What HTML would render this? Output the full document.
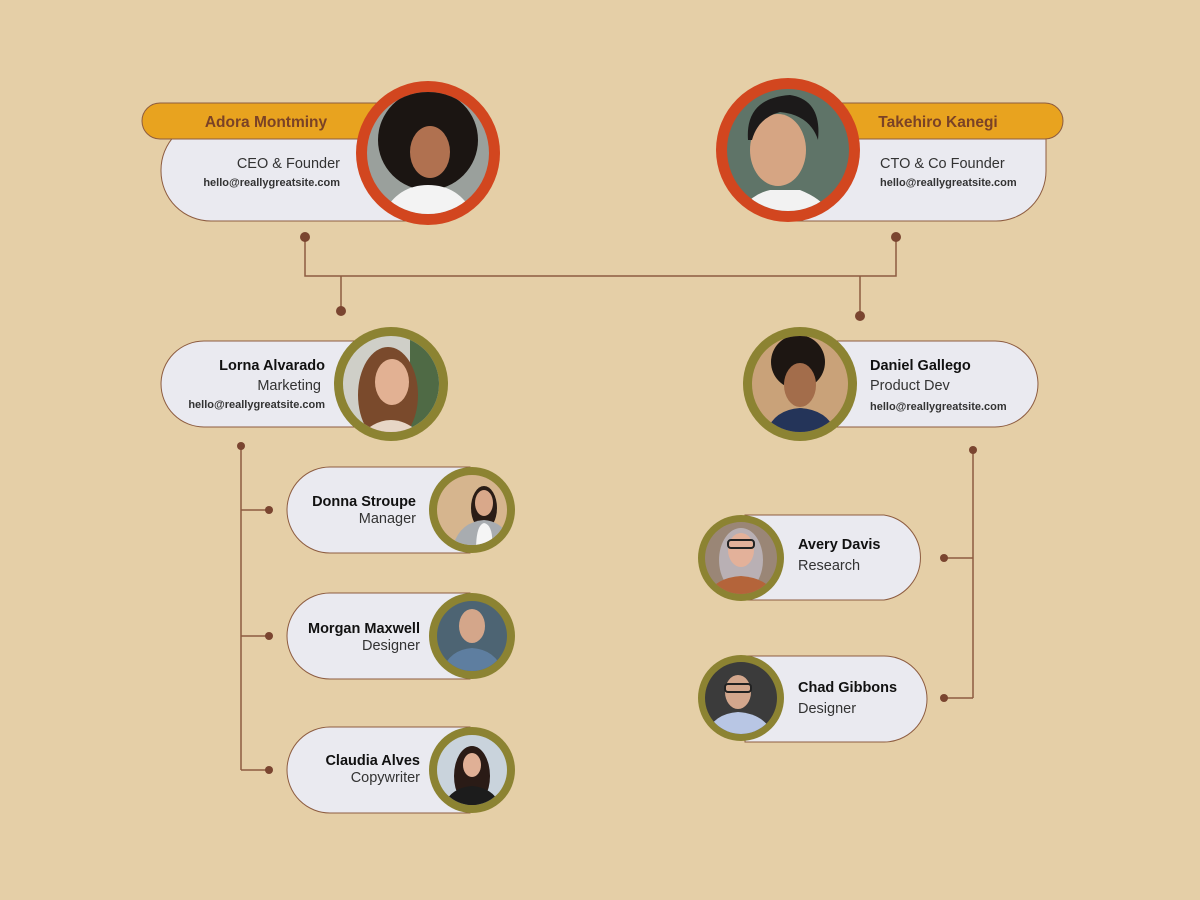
<!DOCTYPE html>
<html><head><meta charset="utf-8"><style>
html,body{margin:0;padding:0;background:#e5cfa7}
svg{display:block}
text{font-family:"Liberation Sans",sans-serif}
</style></head><body>
<svg width="1200" height="900" viewBox="0 0 1200 900" xmlns="http://www.w3.org/2000/svg">
<defs>
<clipPath id="c1"><circle cx="428" cy="153" r="61"/></clipPath>
<clipPath id="c2"><circle cx="788" cy="150" r="61"/></clipPath>
<clipPath id="c3"><circle cx="391" cy="384" r="48"/></clipPath>
<clipPath id="c4"><circle cx="800" cy="384" r="48"/></clipPath>
<clipPath id="c5"><circle cx="472" cy="510" r="35"/></clipPath>
<clipPath id="c6"><circle cx="472" cy="636" r="35"/></clipPath>
<clipPath id="c7"><circle cx="472" cy="770" r="35"/></clipPath>
<clipPath id="c8"><circle cx="741" cy="558" r="36"/></clipPath>
<clipPath id="c9"><circle cx="741" cy="698" r="36"/></clipPath>
</defs>
<rect width="1200" height="900" fill="#e5cfa7"/>
<g stroke="#8d5c40" stroke-width="1.5" fill="none">
<path d="M305 237 V276 H896 V237"/>
<path d="M341 276 V310"/>
<path d="M860 276 V316"/>
<path d="M241 446 V770"/>
<path d="M241 510 H269 M241 636 H269 M241 770 H269"/>
<path d="M973 450 V698"/>
<path d="M973 558 H944 M973 698 H944"/>
</g>
<g fill="#7a4530">
<circle cx="305" cy="237" r="5"/><circle cx="896" cy="237" r="5"/>
<circle cx="341" cy="311" r="5"/><circle cx="860" cy="316" r="5"/>
<circle cx="241" cy="446" r="4"/><circle cx="269" cy="510" r="4"/><circle cx="269" cy="636" r="4"/><circle cx="269" cy="770" r="4"/>
<circle cx="973" cy="450" r="4"/><circle cx="944" cy="558" r="4"/><circle cx="944" cy="698" r="4"/>
</g>
<!-- top left -->
<path d="M430 120 V221 H211 A50 50 0 0 1 161 171 V170 A50 50 0 0 1 211 120 Z" fill="#eaeaf0" stroke="#8d5c40" stroke-width="1"/>
<rect x="142" y="103" width="290" height="36" rx="18" fill="#e8a31f" stroke="#8d5c40" stroke-width="1"/>
<text x="266" y="127" text-anchor="middle" font-size="15.5" font-weight="bold" fill="#7a4226">Adora Montminy</text>
<text x="340" y="168" text-anchor="end" font-size="14.5" fill="#333">CEO &amp; Founder</text>
<text x="340" y="186" text-anchor="end" font-size="11" font-weight="bold" fill="#333">hello@reallygreatsite.com</text>
<circle cx="428" cy="153" r="72" fill="#d2461f"/>
<g clip-path="url(#c1)">
<rect x="360" y="90" width="140" height="130" fill="#9aa09c"/>
<circle cx="428" cy="140" r="50" fill="#1b1512"/>
<ellipse cx="430" cy="152" rx="20" ry="26" fill="#b07150"/>
<path d="M380 220 Q395 185 428 185 Q462 185 476 220 Z" fill="#f3f3f3"/>
</g>
<!-- top right -->
<path d="M790 120 H1046 V171 A50 50 0 0 1 996 221 H790 Z" fill="#eaeaf0" stroke="#8d5c40" stroke-width="1"/>
<rect x="780" y="103" width="283" height="36" rx="18" fill="#e8a31f" stroke="#8d5c40" stroke-width="1"/>
<text x="938" y="127" text-anchor="middle" font-size="15.5" font-weight="bold" fill="#7a4226">Takehiro Kanegi</text>
<text x="880" y="168" font-size="14.5" fill="#333">CTO &amp; Co Founder</text>
<text x="880" y="186" font-size="11" font-weight="bold" fill="#333">hello@reallygreatsite.com</text>
<circle cx="788" cy="150" r="72" fill="#d2461f"/>
<g clip-path="url(#c2)">
<rect x="720" y="85" width="140" height="130" fill="#5f7468"/>
<ellipse cx="778" cy="150" rx="28" ry="36" fill="#d6a583"/>
<path d="M748 140 Q745 98 790 95 Q822 100 818 140 Q810 115 780 112 Q758 118 752 140Z" fill="#1c1a1a"/>
<path d="M740 215 Q748 195 770 190 H800 Q825 200 830 215 Z" fill="#f2f2f2"/>
</g>
<!-- Lorna -->
<path d="M204 341 H400 V427 H204 A43 43 0 0 1 204 341Z" fill="#eaeaf0" stroke="#8d5c40" stroke-width="1"/>
<text x="325" y="370" text-anchor="end" font-size="14.5" font-weight="bold" fill="#111">Lorna Alvarado</text>
<text x="321" y="390" text-anchor="end" font-size="14.5" fill="#333">Marketing</text>
<text x="325" y="408" text-anchor="end" font-size="11" font-weight="bold" fill="#333">hello@reallygreatsite.com</text>
<circle cx="391" cy="384" r="57" fill="#8c8332"/>
<g clip-path="url(#c3)">
<rect x="340" y="330" width="110" height="110" fill="#cfcfc8"/>
<rect x="410" y="330" width="40" height="110" fill="#4f6a45"/>
<ellipse cx="388" cy="395" rx="30" ry="48" fill="#7a4a2c"/>
<ellipse cx="392" cy="382" rx="17" ry="23" fill="#e2b193"/>
<path d="M360 435 Q391 405 422 435 Z" fill="#e7d6c6"/>
</g>
<!-- Daniel -->
<path d="M810 341 H995 A43 43 0 0 1 995 427 H810Z" fill="#eaeaf0" stroke="#8d5c40" stroke-width="1"/>
<text x="870" y="370" font-size="14.5" font-weight="bold" fill="#111">Daniel Gallego</text>
<text x="870" y="390" font-size="14.5" fill="#333">Product Dev</text>
<text x="870" y="410" font-size="11" font-weight="bold" fill="#333">hello@reallygreatsite.com</text>
<circle cx="800" cy="384" r="57" fill="#8c8332"/>
<g clip-path="url(#c4)">
<rect x="750" y="330" width="110" height="110" fill="#c9a279"/>
<circle cx="798" cy="362" r="27" fill="#1d1612"/>
<ellipse cx="800" cy="385" rx="16" ry="22" fill="#a36d4b"/>
<path d="M800 410 Q812 420 802 408" fill="#1d1612"/>
<path d="M764 440 Q770 410 800 408 Q832 410 838 440 Z" fill="#243459"/>
</g>
<!-- left children -->
<path d="M330 467 H470 V553 H330 A43 43 0 0 1 330 467Z" fill="#eaeaf0" stroke="#8d5c40" stroke-width="1"/>
<text x="416" y="506" text-anchor="end" font-size="14.5" font-weight="bold" fill="#111">Donna Stroupe</text>
<text x="416" y="523" text-anchor="end" font-size="14.5" fill="#333">Manager</text>
<circle cx="472" cy="510" r="43" fill="#8c8332"/>
<g clip-path="url(#c5)">
<rect x="430" y="470" width="90" height="90" fill="#d6b58e"/>
<ellipse cx="484" cy="508" rx="13" ry="22" fill="#2a1c16"/><ellipse cx="484" cy="503" rx="9" ry="13" fill="#d9a88a"/>
<path d="M452 550 Q458 522 484 520 Q508 522 512 550Z" fill="#a8acb0"/>
<path d="M476 550 Q476 525 484 523 Q494 525 492 550Z" fill="#f5f5f5"/>
</g>
<path d="M330 593 H470 V679 H330 A43 43 0 0 1 330 593Z" fill="#eaeaf0" stroke="#8d5c40" stroke-width="1"/>
<text x="420" y="633" text-anchor="end" font-size="14.5" font-weight="bold" fill="#111">Morgan Maxwell</text>
<text x="420" y="650" text-anchor="end" font-size="14.5" fill="#333">Designer</text>
<circle cx="472" cy="636" r="43" fill="#8c8332"/>
<g clip-path="url(#c6)">
<rect x="430" y="595" width="90" height="90" fill="#4d6473"/>
<ellipse cx="472" cy="626" rx="13" ry="17" fill="#d4a68a"/>
<path d="M440 680 Q445 650 472 648 Q500 650 505 680Z" fill="#5e7ea0"/>
</g>
<path d="M330 727 H470 V813 H330 A43 43 0 0 1 330 727Z" fill="#eaeaf0" stroke="#8d5c40" stroke-width="1"/>
<text x="420" y="765" text-anchor="end" font-size="14.5" font-weight="bold" fill="#111">Claudia Alves</text>
<text x="420" y="782" text-anchor="end" font-size="14.5" fill="#333">Copywriter</text>
<circle cx="472" cy="770" r="43" fill="#8c8332"/>
<g clip-path="url(#c7)">
<rect x="430" y="730" width="90" height="90" fill="#c9d3dc"/>
<ellipse cx="472" cy="776" rx="18" ry="30" fill="#2a1b16"/><ellipse cx="472" cy="765" rx="9" ry="12" fill="#e0b096"/>
<path d="M442 810 Q448 788 472 786 Q496 788 502 810Z" fill="#1c1c1c"/>
</g>
<!-- right children -->
<path d="M745 515 H884 A43 43 0 0 1 884 600 H745Z" fill="#eaeaf0" stroke="#8d5c40" stroke-width="1"/>
<text x="798" y="549" font-size="14.5" font-weight="bold" fill="#111">Avery Davis</text>
<text x="798" y="570" font-size="14.5" fill="#333">Research</text>
<circle cx="741" cy="558" r="43" fill="#8c8332"/>
<g clip-path="url(#c8)">
<rect x="700" y="515" width="90" height="90" fill="#9a8676"/>
<ellipse cx="741" cy="560" rx="22" ry="32" fill="#b9b0b4"/><ellipse cx="741" cy="550" rx="13" ry="17" fill="#e3b19a"/>
<rect x="728" y="540" width="26" height="8" rx="3" fill="none" stroke="#222" stroke-width="2"/>
<path d="M705 600 Q712 578 741 576 Q770 578 778 600Z" fill="#b4643a"/>
</g>
<path d="M745 656 H884 A43 43 0 0 1 884 742 H745Z" fill="#eaeaf0" stroke="#8d5c40" stroke-width="1"/>
<text x="798" y="692" font-size="14.5" font-weight="bold" fill="#111">Chad Gibbons</text>
<text x="798" y="713" font-size="14.5" fill="#333">Designer</text>
<circle cx="741" cy="698" r="43" fill="#8c8332"/>
<g clip-path="url(#c9)">
<rect x="700" y="655" width="90" height="90" fill="#3b3b3b"/>
<ellipse cx="738" cy="692" rx="13" ry="17" fill="#d3a78d"/>
<rect x="725" y="684" width="26" height="8" rx="3" fill="none" stroke="#222" stroke-width="2"/>
<path d="M705 740 Q710 714 738 712 Q768 714 775 740Z" fill="#b8c6e4"/>
</g>
</svg>
</body></html>
